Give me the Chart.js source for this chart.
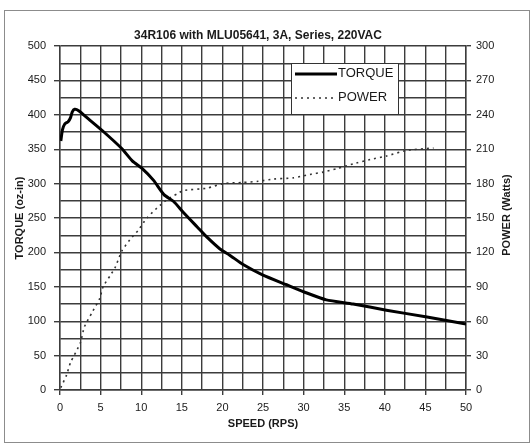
<!DOCTYPE html>
<html>
<head>
<meta charset="utf-8">
<script src="https://cdn.jsdelivr.net/npm/chart.js@4.4.0/dist/chart.umd.min.js"></script>
<style>
html, body { margin: 0; padding: 0; background: #fff; }
</style>
</head>
<body>
<canvas id="mainChart" width="532" height="445"></canvas>
<script>
'use strict';

const CHART_TITLE = '34R106 with MLU05641, 3A, Series, 220VAC';
const X_TITLE = 'SPEED (RPS)';
const Y_TITLE = 'TORQUE (oz-in)';
const Y1_TITLE = 'POWER (Watts)';

// torque curve (oz-in) vs speed (rps)
const torqueSpeed  = [0.1, 0.3, 0.6, 1.0, 1.3, 1.5, 1.8, 2.3, 3.5, 5.4, 7.6, 8.9, 10.1, 11.5, 12.8, 14.0, 15.2, 16.9, 18.2, 19.7, 20.9, 22.6, 25.0, 27.9, 30.4, 32.8, 36.1, 40.2, 45.2, 50.0];
const torqueValues = [362, 378, 387, 390, 396, 404, 408, 406, 394, 375, 351, 333, 322, 305, 284, 274, 258, 237, 221, 205, 196, 182, 167, 153, 141, 131, 125, 116, 106, 96];

// power curve (watts) vs speed (rps)
const powerSpeed  = [0.1, 0.8, 1.3, 2.5, 3.0, 3.9, 4.9, 5.3, 6.2, 6.8, 7.6, 8.6, 9.6, 10.7, 12.3, 13.4, 14.4, 15.2, 18.1, 20.1, 22.6, 24.4, 26.3, 28.7, 30.8, 32.4, 34.1, 36.5, 38.2, 40.2, 42.7, 46.0];
const powerValues = [2, 13, 24, 41, 55, 67, 80, 90, 100, 107, 121, 131, 139, 150, 161, 167, 171, 174, 176, 180, 181, 182, 184, 185, 188, 190, 193, 198, 201, 204, 209, 211];

const FONT = "'Liberation Sans', Arial, sans-serif";
const GRID = '#3c3c3c';
const TEXT = '#1a1a1a';

const majorTick = (step) => (c) => (c.tick && Math.abs(c.tick.value % step) < 1e-6) ? GRID : 'rgba(0,0,0,0)';

const decorations = {
    id: 'decorations',
    beforeDraw(chart) {
        const ctx = chart.ctx;
        ctx.save();
        ctx.fillStyle = '#fff';
        ctx.fillRect(0, 0, chart.width, chart.height);
        ctx.strokeStyle = '#8c8c8c';
        ctx.lineWidth = 1;
        ctx.strokeRect(4.5, 10.5, 525, 432);
        ctx.restore();
    },
    afterDraw(chart) {
        const { ctx, chartArea: a } = chart;
        ctx.save();
        ctx.fillStyle = TEXT;
        ctx.font = `bold 12px ${FONT}`;
        ctx.textAlign = 'center';
        ctx.textBaseline = 'middle';
        ctx.fillText(CHART_TITLE, 258, 36);

        // right axis title reads bottom to top like the left one
        ctx.save();
        ctx.font = `bold 11px ${FONT}`;
        ctx.translate(507, (a.top + a.bottom) / 2 - 3);
        ctx.rotate(-Math.PI / 2);
        ctx.fillText(Y1_TITLE, 0, 0);
        ctx.restore();

        // legend box inside the plot
        const box = { x: 291.5, y: 63.5, w: 107, h: 51 };
        ctx.fillStyle = '#fff';
        ctx.fillRect(box.x, box.y, box.w, box.h);
        ctx.strokeStyle = '#333';
        ctx.lineWidth = 1;
        ctx.strokeRect(box.x, box.y, box.w, box.h);

        ctx.font = `13px ${FONT}`;
        ctx.textAlign = 'left';
        chart.data.datasets.forEach((ds, i) => {
            const y = 73 + i * 24;
            ctx.save();
            ctx.strokeStyle = ds.borderColor;
            ctx.lineWidth = ds.borderWidth;
            ctx.setLineDash(ds.borderDash || []);
            ctx.beginPath();
            ctx.moveTo(295, y + 1);
            ctx.lineTo(337, y + 1);
            ctx.stroke();
            ctx.restore();
            ctx.fillStyle = TEXT;
            ctx.fillText(ds.label, 338, y);
        });
        ctx.restore();
    }
};

const ctx = document.getElementById('mainChart').getContext('2d');

new Chart(ctx, {
    type: 'line',
    data: {
        datasets: [
            {
                label: 'TORQUE',
                data: torqueSpeed.map((s, i) => ({ x: s, y: torqueValues[i] })),
                yAxisID: 'y',
                borderColor: '#000',
                borderWidth: 3,
                pointRadius: 0,
                tension: 0.2,
                fill: false,
            },
            {
                label: 'POWER',
                data: powerSpeed.map((s, i) => ({ x: s, y: powerValues[i] })),
                yAxisID: 'y1',
                borderColor: '#333',
                borderWidth: 1.6,
                borderDash: [2, 4],
                pointRadius: 0,
                tension: 0.2,
                fill: false,
            }
        ]
    },
    options: {
        responsive: false,
        animation: false,
        layout: { padding: { top: 46, left: 0, right: 0, bottom: 0 } },
        plugins: {
            legend: { display: false },
            title: { display: false },
            tooltip: { enabled: false }
        },
        scales: {
            x: {
                type: 'linear',
                min: 0, max: 50,
                afterFit: s => { s.height = 55; },
                ticks: {
                    stepSize: 2.5, autoSkip: false, maxRotation: 0, padding: 6,
                    color: TEXT, font: { family: FONT, size: 11 },
                    callback: v => (v % 5 === 0 ? v : '')
                },
                grid: { color: GRID, lineWidth: 1.4, tickLength: 5, tickColor: majorTick(5) },
                border: { color: GRID, width: 1.4 },
                title: {
                    display: true, text: X_TITLE, color: TEXT,
                    font: { family: FONT, size: 11, weight: 'bold' },
                    padding: { top: 0, bottom: 14 }
                }
            },
            y: {
                position: 'left',
                min: 0, max: 500,
                afterFit: s => { s.width = 60; },
                ticks: {
                    stepSize: 25, autoSkip: false, padding: 8,
                    color: TEXT, font: { family: FONT, size: 11 },
                    callback: v => (v % 50 === 0 ? v : '')
                },
                grid: { color: GRID, lineWidth: 1.4, tickLength: 6, tickColor: majorTick(50) },
                border: { color: GRID, width: 1.4 },
                title: {
                    display: true, text: Y_TITLE, color: TEXT,
                    font: { family: FONT, size: 11, weight: 'bold' },
                    padding: { top: 13, bottom: 0 }
                }
            },
            y1: {
                position: 'right',
                min: 0, max: 300,
                afterFit: s => { s.width = 66; },
                ticks: {
                    stepSize: 30, autoSkip: false, padding: 5,
                    color: TEXT, font: { family: FONT, size: 11 }
                },
                grid: { drawOnChartArea: false, color: GRID, lineWidth: 1.4, tickLength: 5 },
                border: { color: GRID, width: 1.4 }
            }
        }
    },
    plugins: [decorations]
});
</script>
</body>
</html>
